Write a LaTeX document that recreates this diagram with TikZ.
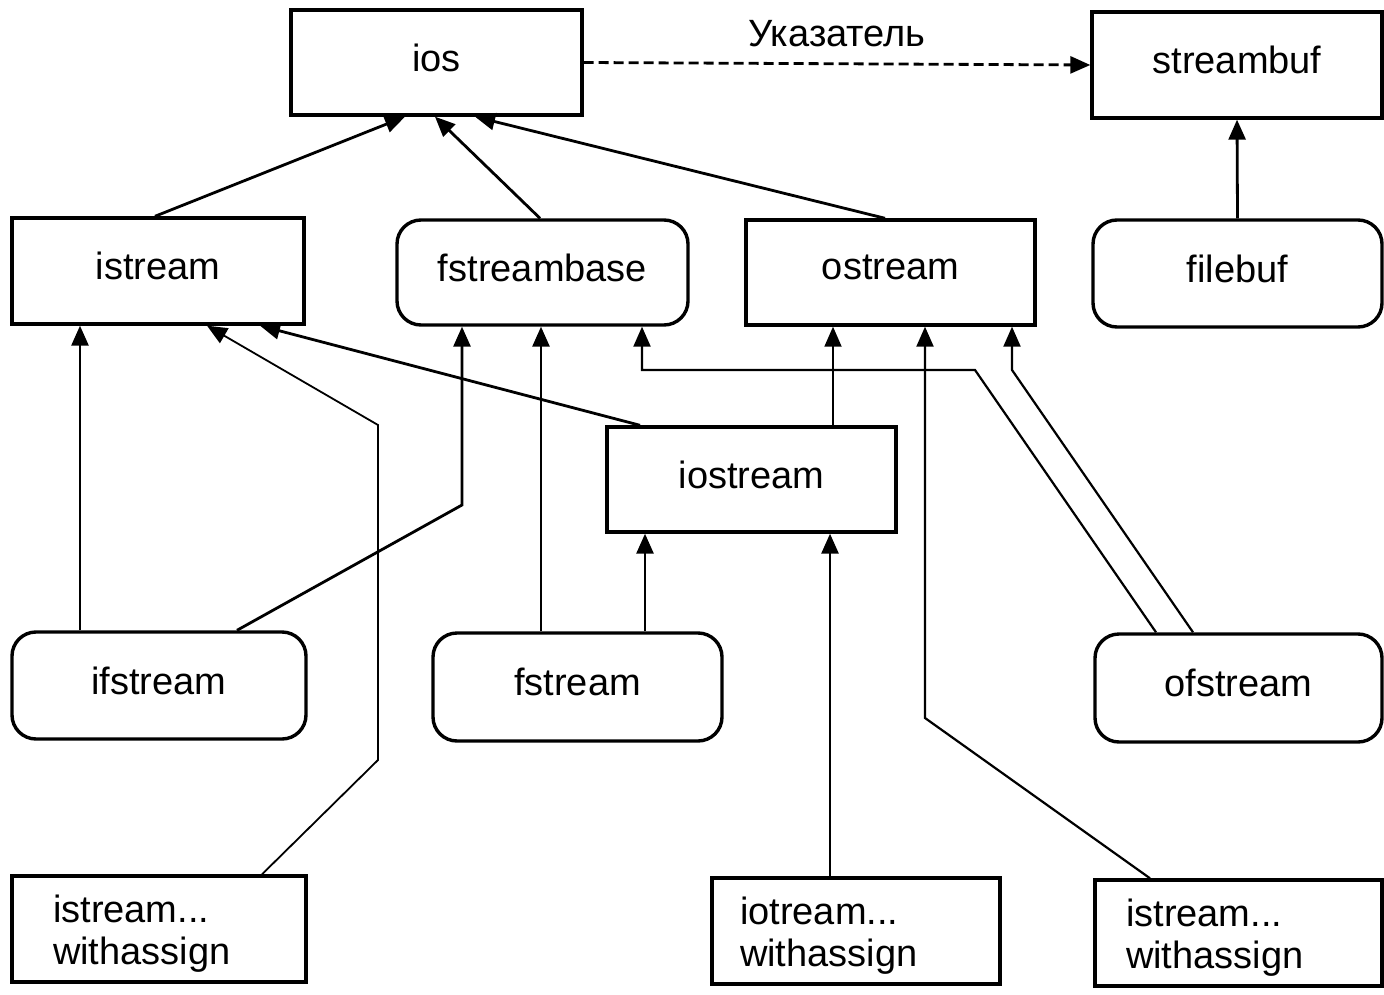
\documentclass[tikz,border=0pt]{standalone}
\usepackage{fontspec}
\setmainfont{Liberation Sans}
\usetikzlibrary{arrows.meta}
\tikzset{
  cls/.style={draw, line width=1.7pt, inner sep=0pt, font=\fontsize{19}{21}\selectfont},
  one/.style={text depth=5pt},
  rbox/.style={cls, one, rounded corners=12pt},
  sz/.style 2 args={minimum width=#1, minimum height=#2},
  inh/.style={line width=1.4pt, -{Triangle[length=10pt,width=8.5pt]}},
  thinl/.style={line width=0.9pt},
  ptr/.style={line width=1.4pt, dash pattern=on 5pt off 2.5pt, -{Triangle[length=10pt,width=8.5pt]}}
}
\newcommand{\firstline}{\rule{0pt}{18pt}}
\begin{document}
\begin{tikzpicture}[x=0.5pt,y=-0.5pt]
\useasboundingbox (0,0) rectangle (1384,994);
% nodes
\node[cls, one, sz={145.5pt}{52.5pt}] (ios) at (436.5,62.5) {ios};
\node[cls, one, sz={145pt}{53pt}] (streambuf) at (1237,65) {streambuf};
\node[cls, one, sz={146pt}{53pt}] (istream) at (158,271) {istream};
\node[rbox, sz={145.5pt}{52.5pt}] (fstreambase) at (542.5,272.5) {fstreambase};
\node[cls, one, sz={144.5pt}{52.5pt}] (ostream) at (890.5,272.5) {ostream};
\node[rbox, sz={144.5pt}{53.5pt}] (filebuf) at (1237.5,273.5) {filebuf};
\node[cls, one, sz={144.5pt}{52.5pt}] (iostream) at (751.5,479.5) {iostream};
\node[rbox, sz={147pt}{53.5pt}] (ifstream) at (159,685.5) {ifstream};
\node[rbox, sz={144.5pt}{54pt}] (fstream) at (577.5,687) {fstream};
\node[rbox, sz={143.5pt}{54pt}] (ofstream) at (1238.5,688) {ofstream};
\node[cls, sz={147pt}{53pt}, inner xsep=20.5pt, text width=106pt, align=left] (isw1) at (159,929) {\firstline istream...\\withassign};
\node[cls, sz={144pt}{53pt}, inner xsep=14pt, text width=116pt, align=left] (iow) at (856,931) {\firstline iotream...\\withassign};
\node[cls, sz={143.5pt}{53pt}, inner xsep=15.5pt, text width=112.5pt, align=left] (isw2) at (1238.5,933) {\firstline istream...\\withassign};
% pointer
\draw[ptr] (ios.east) -- (streambuf.west) node[midway, above=4.5pt, font=\fontsize{19}{21}\selectfont] (lbl) {Указатель};
% inheritance
\draw[inh] (istream.north -| 155,0) -- (ios.south -| 405,0);
\draw[inh] (fstreambase.north -| 540,0) -- (ios.south -| 435,0);
\draw[inh] (ostream.north -| 885,0) -- (ios.south -| 475,0);
\draw[inh] (filebuf.north) -- (streambuf.south);
\draw[inh] (ifstream.north -| 80,0) -- (istream.south -| 80,0);
\draw[inh, thinl] (isw1.north -| 262,0) -- (378,760) -- (378,425) -- (istream.south -| 207,0);
\draw[inh] (iostream.north -| 640,0) -- (istream.south -| 260,0);
\draw[inh] (ifstream.north -| 237,0) -- (462,505) -- (fstreambase.south -| 462,0);
\draw[inh] (fstream.north -| 541,0) -- (fstreambase.south -| 541,0);
\draw[inh, line width=1.1pt] (ofstream.north -| 1156,0) -- (975,370) -- (642,370) -- (fstreambase.south -| 642,0);
\draw[inh, thinl] (iostream.north -| 833,0) -- (ostream.south -| 833,0);
\draw[inh, line width=1.1pt] (isw2.north -| 1150,0) -- (925,718) -- (ostream.south -| 925,0);
\draw[inh, line width=1.1pt] (ofstream.north -| 1193,0) -- (1012,370) -- (ostream.south -| 1012,0);
\draw[inh] (fstream.north -| 645,0) -- (iostream.south -| 645,0);
\draw[inh] (iow.north -| 830,0) -- (iostream.south -| 830,0);
\end{tikzpicture}
\end{document}
